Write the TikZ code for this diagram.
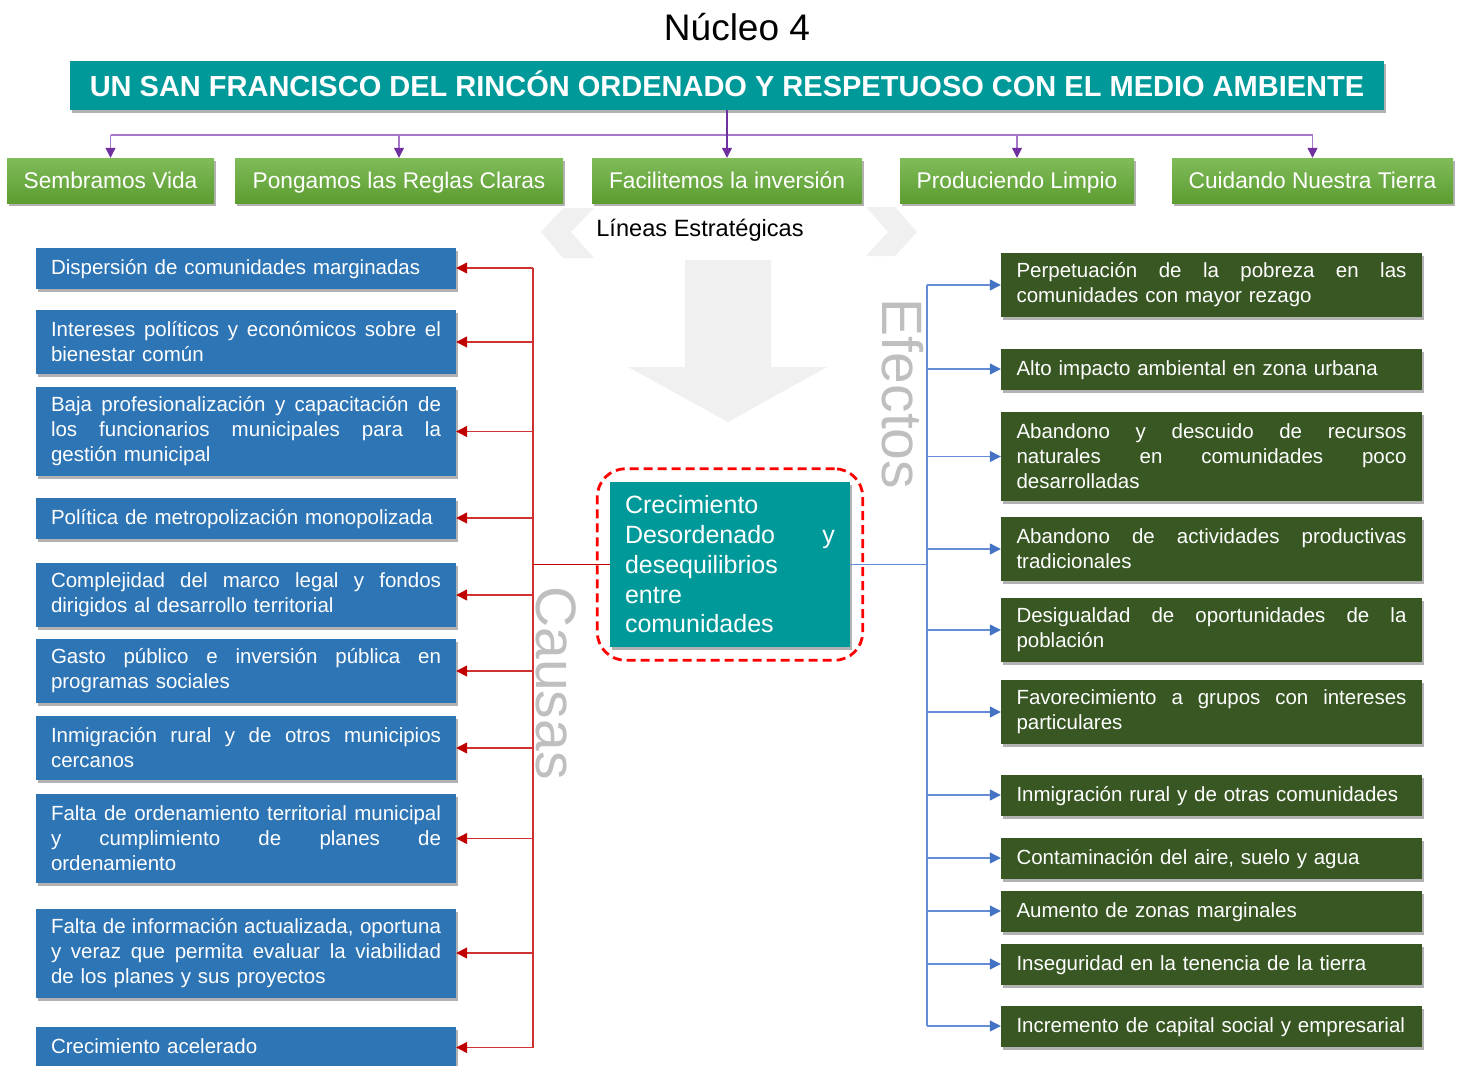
\documentclass[tikz,border=0pt]{standalone}
\usepackage{fontspec}
\setmainfont{Liberation Sans}
\usetikzlibrary{arrows.meta,shadows,fit,calc}
\definecolor{teal1}{RGB}{0,153,153}
\definecolor{gtop}{RGB}{128,188,90}
\definecolor{gbot}{RGB}{92,156,48}
\definecolor{cblue}{RGB}{46,117,182}
\definecolor{cdgreen}{RGB}{56,87,35}
\definecolor{redl}{RGB}{208,50,50}
\definecolor{redt}{RGB}{192,0,0}
\definecolor{bluel}{RGB}{100,140,215}
\definecolor{bluet}{RGB}{68,114,196}
\definecolor{purl}{RGB}{165,120,205}
\definecolor{purt}{RGB}{112,48,160}
\definecolor{faint}{RGB}{240,240,240}
\definecolor{lbl}{RGB}{191,191,191}
\newcommand{\jl}[1]{\leavevmode\hbox to 390pt{\spaceskip=.278em plus 1fil\relax #1}\\}
\begin{document}
\begin{tikzpicture}[x=1pt,y=-1pt,
 shad/.style={drop shadow={shadow xshift=2pt,shadow yshift=-3pt,opacity=0.3,fill=black}},
 lbox/.style={shad, fill=cblue, text=white, text width=390pt, inner xsep=15pt, inner ysep=0pt, align=left, font=\fontsize{20.5}{25}\selectfont},
 rbox/.style={lbox, fill=cdgreen, inner xsep=15.5pt},
 oneline/.style={minimum height=41pt, text height=17.6pt, text depth=5pt},
 gbox/.style={shad, top color=gtop, bottom color=gbot, text=white, minimum height=45pt, inner sep=0pt,
   text height=18.3pt, text depth=2.7pt, font=\fontsize{22.7}{27}\selectfont},
 redline/.style={draw=redl, line width=1.2pt},
 redarr/.style={redline, -{Triangle[length=11pt,width=11pt,color=redt]}},
 blueline/.style={draw=bluel, line width=1.2pt},
 bluearr/.style={blueline, -{Triangle[length=11pt,width=11pt,color=bluet]}},
 pline/.style={draw=purl, line width=1.2pt},
 parr/.style={pline, -{Triangle[length=10pt,width=10pt,color=purt]}},
 sidelbl/.style={rotate=-90, text=lbl, inner sep=0pt, font=\fontsize{57}{60}\selectfont}
]
\useasboundingbox (0,0) rectangle (1461,1065);

% faint background shapes
\fill[faint] (541,232) -- (563,208) -- (594,208) -- (571,232) -- (594,258) -- (563,258) -- cycle;
\fill[faint] (866,207) -- (895,207) -- (917,232) -- (895,256) -- (866,256) -- (888,232) -- cycle;
\fill[faint] (685,260) -- (771,260) -- (771,367) -- (827,367) -- (728,422) -- (628,367) -- (685,367) -- cycle;

% header
\node (N) at (737,27) {\fontsize{37}{40}\selectfont Núcleo 4};
\node[shad, fill=teal1, text=white, minimum width=1314pt, minimum height=49pt, inner sep=0pt,
      text height=21pt, text depth=0pt,
      font=\bfseries\fontsize{29}{34}\selectfont] (T) at (727,85.5)
      {UN SAN FRANCISCO DEL RINCÓN ORDENADO Y RESPETUOSO CON EL MEDIO AMBIENTE};

% strategic lines
\node[gbox, minimum width=207pt] (G1) at (110.5,180.5) {Sembramos Vida};
\node[gbox, minimum width=328pt] (G2) at (399,180.5) {Pongamos las Reglas Claras};
\node[gbox, minimum width=270pt] (G3) at (727,180.5) {Facilitemos la inversión};
\node[gbox, minimum width=234pt] (G4) at (1017,180.5) {Produciendo Limpio};
\node[gbox, minimum width=281pt] (G5) at (1312.5,180.5) {Cuidando Nuestra Tierra};

\coordinate (py) at (0,135);
\draw[pline] (G1.north |- py) -- (G5.north |- py);
\foreach \i in {1,2,4,5} \draw[parr] (G\i.north |- py) -- (G\i.north);
\draw[parr, draw=purt] (T.south -| G3.north) -- (G3.north);

\node (LE) at (700,230) {\fontsize{23.6}{28}\selectfont Líneas Estratégicas};

% side labels
\node[sidelbl] (EF) at (903,394) {Efectos};
\node[sidelbl] (CA) at (556,683) {Causas};

% central problem
\node[shad, fill=teal1, text=white, minimum width=240pt, minimum height=165pt, text width=210pt,
      inner xsep=15pt, inner ysep=0pt, align=left, font=\fontsize{25}{29.75}\selectfont] (C) at (730,564.5)
      {Crecimiento\\ \leavevmode\hbox to 210pt{Desordenado\hfill y}\\ desequilibrios\\ entre\\ comunidades};
\node[fit=(C), inner xsep=12.5pt, inner ysep=13pt, rounded corners=28pt, draw=red,
      line width=2.8pt, dash pattern=on 9pt off 5pt] (D) {};

% causes
\node[lbox, oneline] (L1) at (246,268) {Dispersión de comunidades marginadas};
\node[lbox, minimum height=64pt] (L2) at (246,342) {\jl{Intereses políticos y económicos sobre el}bienestar común};
\node[lbox, minimum height=89pt] (L3) at (246,431.5) {\jl{Baja profesionalización y capacitación de}\jl{los funcionarios municipales para la}gestión municipal};
\node[lbox, oneline] (L4) at (246,518) {Política de metropolización monopolizada};
\node[lbox, minimum height=64pt] (L5) at (246,595) {\jl{Complejidad del marco legal y fondos}dirigidos al desarrollo territorial};
\node[lbox, minimum height=64pt] (L6) at (246,671) {\jl{Gasto público e inversión pública en}programas sociales};
\node[lbox, minimum height=64pt] (L7) at (246,748) {\jl{Inmigración rural y de otros municipios}cercanos};
\node[lbox, minimum height=89pt] (L8) at (246,838.5) {\jl{Falta de ordenamiento territorial municipal}\jl{y cumplimiento de planes de}ordenamiento};
\node[lbox, minimum height=89pt] (L9) at (246,953) {\jl{Falta de información actualizada, oportuna}\jl{y veraz que permita evaluar la viabilidad}de los planes y sus proyectos};
\node[lbox, oneline] (L10) at (246,1047.5) {Crecimiento acelerado};

\coordinate (rx) at (533,0);
\draw[redline] (L1.east -| rx) -- (L10.east -| rx);
\draw[redline, draw=redt, line width=1.8pt] (C.west) -- (C.west -| rx);
\foreach \i in {1,...,10} \draw[redarr] (L\i.east -| rx) -- (L\i.east);

% effects
\node[rbox, minimum height=64pt] (R1) at (1211.5,285) {\jl{Perpetuación de la pobreza en las}comunidades con mayor rezago};
\node[rbox, oneline] (R2) at (1211.5,369) {Alto impacto ambiental en zona urbana};
\node[rbox, minimum height=89pt] (R3) at (1211.5,456.5) {\jl{Abandono y descuido de recursos}\jl{naturales en comunidades poco}desarrolladas};
\node[rbox, minimum height=64pt] (R4) at (1211.5,549) {\jl{Abandono de actividades productivas}tradicionales};
\node[rbox, minimum height=64pt] (R5) at (1211.5,630) {\jl{Desigualdad de oportunidades de la}población};
\node[rbox, minimum height=64pt] (R6) at (1211.5,712) {\jl{Favorecimiento a grupos con intereses}particulares};
\node[rbox, oneline] (R7) at (1211.5,795) {Inmigración rural y de otras comunidades};
\node[rbox, oneline] (R8) at (1211.5,858) {Contaminación del aire, suelo y agua};
\node[rbox, oneline] (R9) at (1211.5,911) {Aumento de zonas marginales};
\node[rbox, oneline] (R10) at (1211.5,964) {Inseguridad en la tenencia de la tierra};
\node[rbox, oneline] (R11) at (1211.5,1026) {Incremento de capital social y empresarial};

\coordinate (bx) at (927,0);
\draw[blueline] (R1.west -| bx) -- (R11.west -| bx);
\draw[blueline] (C.east) -- (C.east -| bx);
\foreach \i in {1,...,11} \draw[bluearr] (R\i.west -| bx) -- (R\i.west);
\end{tikzpicture}
\end{document}
